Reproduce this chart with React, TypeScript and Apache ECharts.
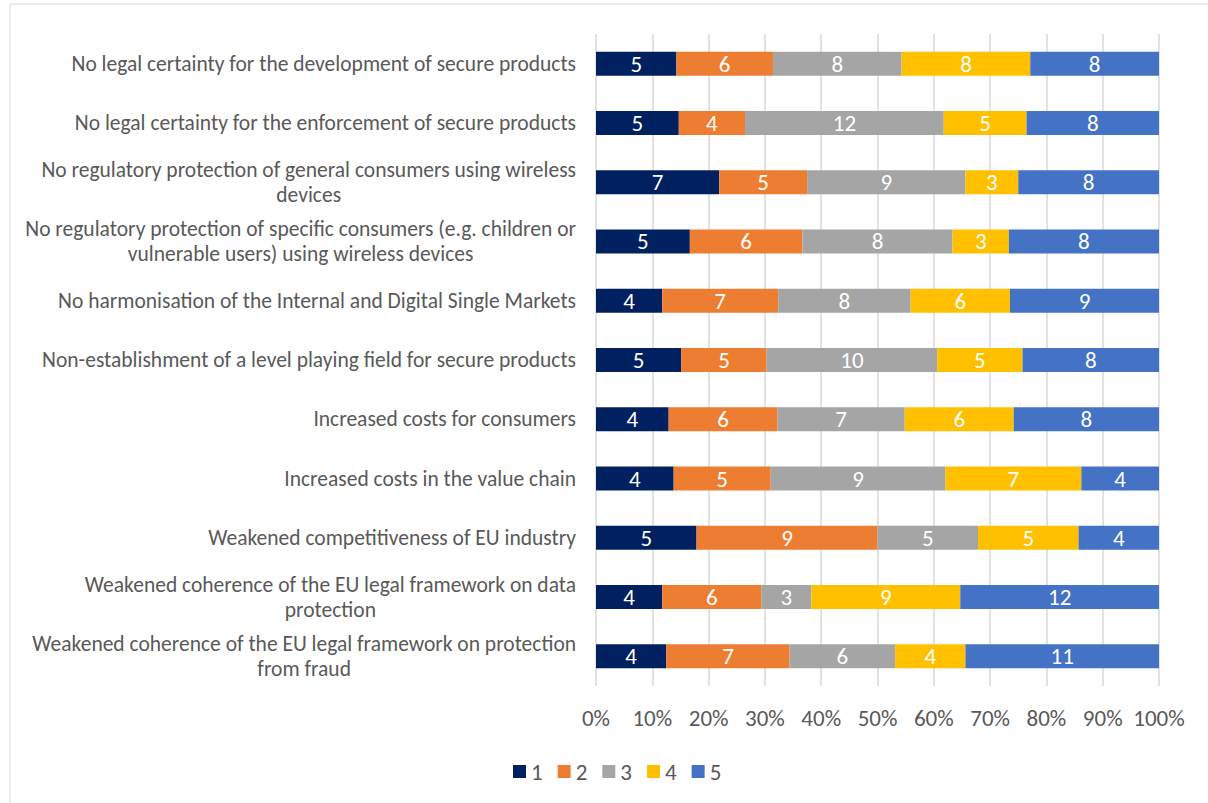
import React, { useEffect, useRef } from "react";
import * as echarts from "echarts";

const categories = [
  "No legal certainty for the development of secure products",
  "No legal certainty for the enforcement of secure products",
  "No regulatory protection of general consumers using wireless\ndevices",
  "No regulatory protection of specific consumers (e.g. children or\nvulnerable users) using wireless devices",
  "No harmonisation of the Internal and Digital Single Markets",
  "Non-establishment of a level playing field for secure products",
  "Increased costs for consumers",
  "Increased costs in the value chain",
  "Weakened competitiveness of EU industry",
  "Weakened coherence of the EU legal framework on data\nprotection",
  "Weakened coherence of the EU legal framework on protection\nfrom fraud",
];

const seriesNames = ["1", "2", "3", "4", "5"];
const colors = ["#002060", "#ED7D31", "#A5A5A5", "#FFC000", "#4472C4"];

const s1 = [5, 5, 7, 5, 4, 5, 4, 4, 5, 4, 4];
const s2 = [6, 4, 5, 6, 7, 5, 6, 5, 9, 6, 7];
const s3 = [8, 12, 9, 8, 8, 10, 7, 9, 5, 3, 6];
const s4 = [8, 5, 3, 3, 6, 5, 6, 7, 5, 9, 4];
const s5 = [8, 8, 8, 8, 9, 8, 8, 4, 4, 12, 11];

const tickLabels = ["0%", "10%", "20%", "30%", "40%", "50%", "60%", "70%", "80%", "90%", "100%"];

const FONT = "Carlito, Lato, sans-serif";

export default function App() {
  const ref = useRef<HTMLDivElement>(null);
  useEffect(() => {
    document.body.style.margin = "0";
    const chart = echarts.init(ref.current!, null, { renderer: "svg" });
    const all = [s1, s2, s3, s4, s5];
    const totals = categories.map((_, i) => all.reduce((a, s) => a + s[i], 0));
    chart.setOption({
      animation: false,
      backgroundColor: "#ffffff",
      textStyle: { fontFamily: FONT },
      graphic: [
        {
          type: "rect",
          shape: { x: 10, y: 4, width: 1400, height: 1000 },
          style: { fill: "none", stroke: "#d9d9d9", lineWidth: 1 },
          silent: true,
        },
      ],
      grid: { left: 596, right: 49, top: 34, bottom: 117, containLabel: false },
      legend: {
        left: 508,
        top: 755,
        itemWidth: 13,
        itemHeight: 13,
        itemGap: 15,
        icon: "rect",
        textStyle: { color: "#595959", fontSize: 23, fontFamily: FONT, padding: [0, 0, 0, 0] },
        data: seriesNames,
      },
      xAxis: {
        type: "value",
        min: 0,
        max: 100,
        interval: 10,
        axisLine: { show: false },
        axisTick: { show: false },
        splitLine: { show: true, lineStyle: { color: "#d9d9d9", width: 1.5 } },
        axisLabel: {
          color: "#595959",
          fontSize: 23,
          margin: 20,
          fontFamily: FONT,
          formatter: (v: number) => tickLabels[Math.round(v / 10)],
        },
      },
      yAxis: {
        type: "category",
        inverse: true,
        data: categories,
        axisLine: { show: false },
        axisTick: { show: false },
        axisLabel: {
          margin: 20,
          align: "right",
          formatter: (v: string) =>
            v
              .split("\n")
              .map((l) => "{c|" + l + "}")
              .join("\n"),
          rich: {
            c: {
              align: "center",
              color: "#595959",
              fontSize: 21.5,
              lineHeight: 25,
              fontFamily: FONT,
            },
          },
        },
      },
      series: all.map((s, k) => ({
        name: seriesNames[k],
        type: "bar",
        stack: "total",
        barWidth: 24,
        itemStyle: { color: colors[k] },
        label: {
          show: true,
          position: "inside",
          color: "#ffffff",
          fontSize: 23,
          fontFamily: FONT,
          formatter: (p: any) => String(p.data.count),
        },
        data: s.map((v, i) => ({ value: (v / totals[i]) * 100, count: v })),
      })),
    });
    return () => chart.dispose();
  }, []);
  return <div ref={ref} style={{ width: 1208, height: 803 }} />;
}
